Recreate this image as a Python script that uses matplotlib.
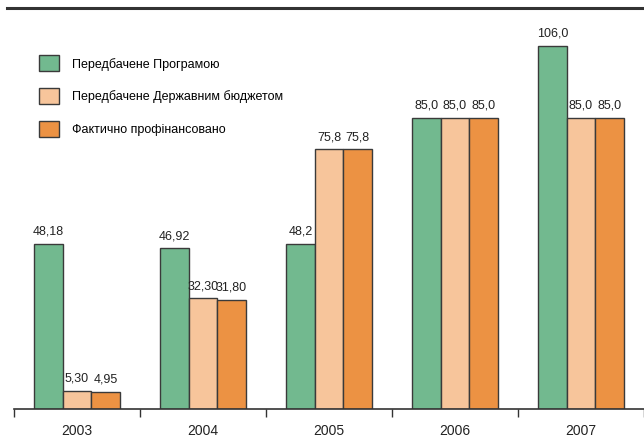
import matplotlib.pyplot as plt
import numpy as np
from matplotlib.patches import Patch

plt.rcParams['font.family'] = ['Liberation Sans Narrow', 'Liberation Sans', 'DejaVu Sans']

years = ['2003', '2004', '2005', '2006', '2007']
series_names = ['Передбачене Програмою', 'Передбачене Державним бюджетом', 'Фактично профінансовано']
program = [48.18, 46.92, 48.2, 85.0, 106.0]
budget = [5.30, 32.30, 75.8, 85.0, 85.0]
actual = [4.95, 31.80, 75.8, 85.0, 85.0]
program_labels = ['48,18', '46,92', '48,2', '85,0', '106,0']
budget_labels = ['5,30', '32,30', '75,8', '85,0', '85,0']
actual_labels = ['4,95', '31,80', '75,8', '85,0', '85,0']

colors = ['#72b98f', '#f7c59b', '#ec9243']

fig = plt.figure(figsize=(6.44, 4.47), dpi=100)
ax = fig.add_axes([0.0217, 0.085, 0.9783, 0.897])

x = np.arange(len(years))
w = 0.225
for k, (vals, labs) in enumerate([(program, program_labels), (budget, budget_labels), (actual, actual_labels)]):
    pos = x + (k - 1) * w
    ax.bar(pos, vals, w, color=colors[k], edgecolor='#3a3a3a', linewidth=1.0)
    for p, v, t in zip(pos, vals, labs):
        ax.text(p, v + 1.8, t, ha='center', va='bottom', fontsize=9, color='#222222')

ax.set_xlim(-0.5, len(years) - 0.5)
ax.set_ylim(0, 117)
for s in ['top', 'right', 'left']:
    ax.spines[s].set_visible(False)
ax.spines['bottom'].set_color('#333333')
ax.spines['bottom'].set_linewidth(1.2)
ax.set_yticks([])
ax.set_xticks(np.arange(len(years) + 1) - 0.5, minor=False)
ax.set_xticklabels([])
ax.tick_params(axis='x', which='major', length=6, width=1.0, color='#333333')
ax.set_xticks(x, minor=True)
ax.set_xticklabels(years, minor=True, fontsize=10, color='#222222')
ax.tick_params(axis='x', which='minor', length=0, pad=11)

# top rule
fig.add_artist(plt.Line2D([0.011, 1.0], [0.982, 0.982], color='#333333', linewidth=2.2, transform=fig.transFigure))

handles = [Patch(facecolor=c, edgecolor='#3a3a3a', linewidth=1.0) for c in colors]
ax.legend(handles, series_names, loc='upper left', bbox_to_anchor=(0.022, 0.91), frameon=False,
          fontsize=9, handlelength=1.6, handleheight=1.6, labelspacing=1.35, handletextpad=1.0)

fig.savefig('out.png', dpi=100)
